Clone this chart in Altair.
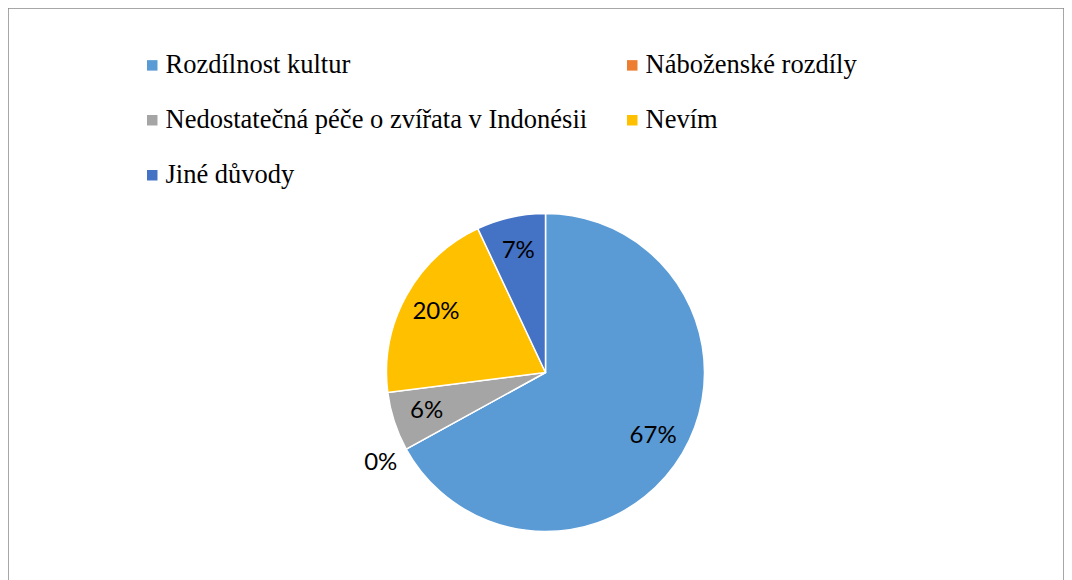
import altair as alt
import pandas as pd

categories = [
    "Rozdílnost kultur",
    "Náboženské rozdíly",
    "Nedostatečná péče o zvířata v Indonésii",
    "Nevím",
    "Jiné důvody",
]
values = [67, 0, 6, 20, 7]
colors = ["#5B9BD5", "#ED7D31", "#A5A5A5", "#FFC000", "#4472C4"]

df = pd.DataFrame({"cat": categories, "v": values, "idx": list(range(len(categories)))})

cx = 537.5
cy = 364.5

arcs = alt.Chart(df).mark_arc(outerRadius=159, stroke="white", strokeWidth=1.5).encode(
    theta=alt.Theta("v:Q", stack=True),
    order=alt.Order("idx:Q"),
    x=alt.value(cx),
    y=alt.value(cy),
    color=alt.Color(
        "cat:N",
        scale=alt.Scale(domain=categories, range=colors),
        legend=alt.Legend(
            title=None,
            orient="none",
            direction="horizontal",
            legendX=131,
            legendY=44,
            columns=2,
            columnPadding=31,
            rowPadding=28,
            symbolType="square",
            symbolSize=110,
            symbolStrokeWidth=0,
            symbolOpacity=1,
            labelFont="Liberation Serif",
            labelFontSize=26.5,
            labelColor="#000000",
            labelLimit=700,
            labelOffset=0,
        ),
    ),
)

labels = (
    alt.Chart(df)
    .transform_window(cum="sum(v)", sort=[alt.SortField("idx", order="ascending")])
    .transform_calculate(
        mid="datum.cum - datum.v / 2",
        label="datum.v + '%'",
        lr="datum.v == 0 ? 188 : 125",
    )
    .mark_text(font="Lato", fontSize=24, color="#000000")
    .encode(
        theta=alt.Theta("mid:Q", stack=None),
        x=alt.value(cx),
        y=alt.value(cy),
        radius=alt.Radius("lr:Q", scale=None),
        text="label:N",
    )
)

chart = (
    alt.layer(arcs, labels)
    .properties(
        width=1056,
        height=574,
        padding=0,
        background="white",
        autosize=alt.AutoSizeParams(type="none"),
    )
    .configure_view(stroke="#8a8a8a", strokeWidth=1.5)
)

chart.save("out.html", embed_options={"renderer": "svg", "actions": False})
